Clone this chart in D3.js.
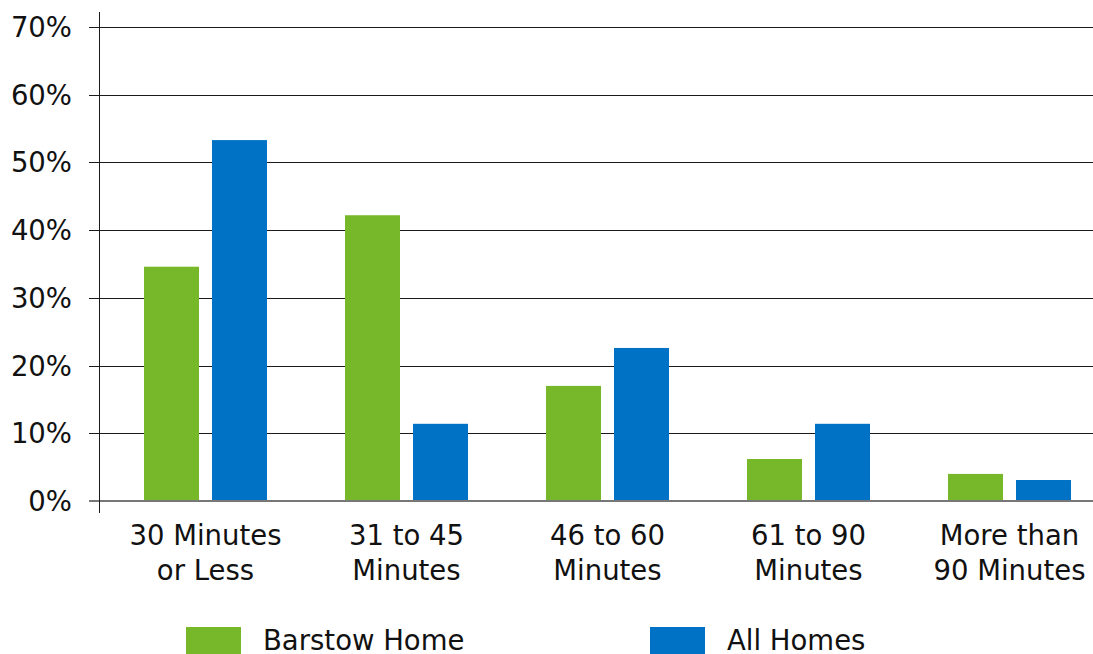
<!DOCTYPE html>
<html><head><meta charset="utf-8">
<script src="https://cdn.jsdelivr.net/npm/d3@7"></script>
<style>body{margin:0;background:#fff;} svg{display:block;}</style>
</head><body>
<svg id="chart" width="1093" height="654"></svg>
<script>
const categories = [["30 Minutes","or Less"],["31 to 45","Minutes"],["46 to 60","Minutes"],["61 to 90","Minutes"],["More than","90 Minutes"]];
const seriesNames = ["Barstow Home","All Homes"];
const barstow = [34.6, 42.2, 17.0, 6.2, 4.0];
const allHomes = [53.3, 11.4, 22.6, 11.4, 3.1];
const yTicks = [0,10,20,30,40,50,60,70];
const colors = ["#76b82a","#0072c6"];
const font = "'DejaVu Sans', sans-serif";
const fs = 27.5;

const svg = d3.select("#chart");
const catKeys = categories.map(c => c.join(" "));
const x0 = d3.scaleBand().domain(catKeys).range([105,1110]).paddingInner(0.388).paddingOuter(0.194);
const x1 = d3.scaleBand().domain(seriesNames).range([0,x0.bandwidth()]).paddingInner(0.191).paddingOuter(0);
const y = d3.scaleLinear().domain([0,70]).range([501,27]);

// gridlines
svg.append("g").selectAll("line").data(yTicks.filter(d=>d>0)).join("line")
  .attr("x1",89).attr("x2",1093).attr("y1",d=>Math.round(y(d))+0.5).attr("y2",d=>Math.round(y(d))+0.5)
  .attr("stroke","#1a1a1a").attr("stroke-width",1);

// y axis tick labels
svg.append("g").selectAll("text").data(yTicks).join("text")
  .attr("x",72).attr("y",d=>y(d)+10).attr("text-anchor","end")
  .attr("font-family",font).attr("font-size",fs).attr("fill","#111")
  .text(d=>d+"%");

// bars
const series = [barstow, allHomes];
const g = svg.append("g");
catKeys.forEach((c,i)=>{
  seriesNames.forEach((s,j)=>{
    g.append("rect").attr("x",x0(c)+x1(s)).attr("width",x1.bandwidth())
      .attr("y",y(series[j][i])).attr("height",y(0)-y(series[j][i]))
      .attr("fill",colors[j]);
  });
});

// zero line
svg.append("line").attr("x1",89).attr("x2",1093).attr("y1",y(0)).attr("y2",y(0))
  .attr("stroke","#777").attr("stroke-width",2);
// y axis line
svg.append("line").attr("x1",99.5).attr("x2",99.5).attr("y1",12).attr("y2",513)
  .attr("stroke","#1a1a1a").attr("stroke-width",1);

// category labels
const lab = svg.append("g");
categories.forEach((c,i)=>{
  const cx = x0(catKeys[i])+x0.bandwidth()/2;
  const t = lab.append("text").attr("x",cx).attr("y",545)
    .attr("text-anchor","middle").attr("font-family",font).attr("font-size",fs).attr("fill","#111");
  c.forEach((line,k)=>t.append("tspan").attr("x",cx).attr("dy",k?35:0).text(line));
});

// legend
const legX = [186, 650];
seriesNames.forEach((s,j)=>{
  svg.append("rect").attr("x",legX[j]).attr("y",627).attr("width",55).attr("height",30).attr("fill",colors[j]);
  svg.append("text").attr("x",legX[j]+77).attr("y",650).attr("font-family",font).attr("font-size",fs).attr("fill","#111").text(s);
});
</script>
</body></html>
